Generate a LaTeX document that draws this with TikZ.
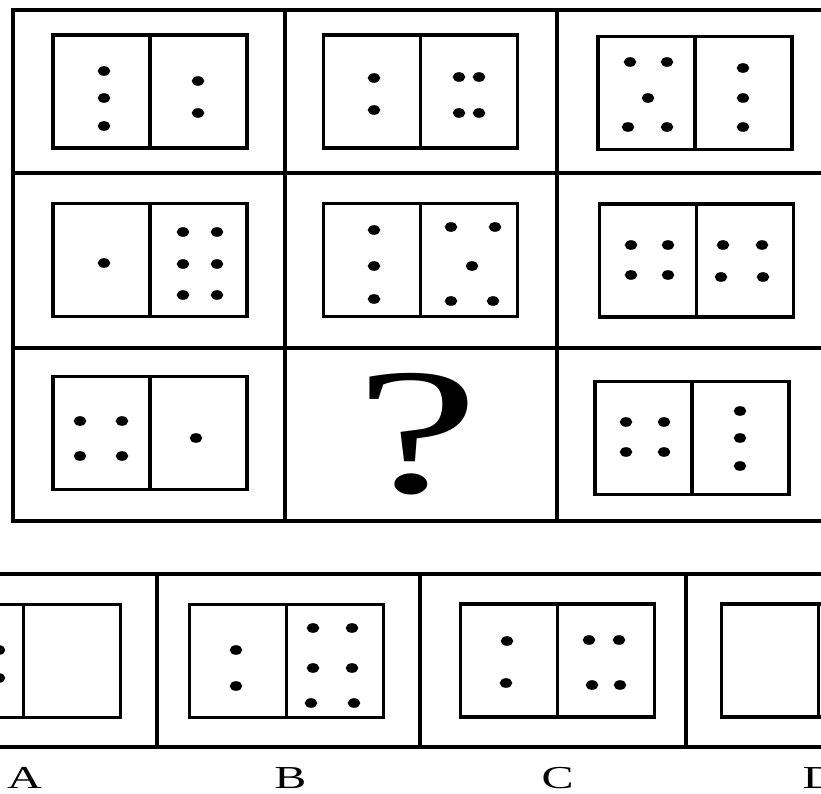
\documentclass[tikz,border=0pt]{standalone}
\usepackage{fontspec}
\usepackage{graphicx}
\newfontfamily\optfont{Liberation Serif}
\usetikzlibrary{positioning}

\begin{document}
\begin{tikzpicture}[
    x=1pt,y=-1pt,
    grid/.style={line width=3.2pt,line cap=rect},
    panel/.style={draw,line width=3.1pt,minimum width=194pt,minimum height=113pt,
      inner sep=0pt,outer sep=0pt},
    pip/.style={fill=black},
    choice/.style={font=\optfont\fontsize{32}{32}\selectfont,inner sep=0pt}
  ]
    \useasboundingbox (0,0) rectangle (821,794);
    \clip (0,0) rectangle (821,794);
    % question grid
    \foreach \y in {10,173,348,521}
      \draw[grid] (13,\y) -- (840,\y);
    \foreach \x in {13,285,557,829}
      \draw[grid] (\x,10) -- (\x,521);
    % answer strip
    \foreach \y in {574,747}
      \draw[grid] (-20,\y) -- (840,\y);
    \foreach \x in {157,420,686}
      \draw[grid] (\x,574) -- (\x,747);

    % domino panels
    \node[panel] (q11) at (150,91.5) {};
    \node[panel] (q12) at (420.5,91.5) {};
    \node[panel] (q13) at (695,93) {};
    \node[panel] (q21) at (150,260) {};
    \node[panel] (q22) at (420.5,260) {};
    \node[panel] (q23) at (696.5,260.5) {};
    \node[panel] (q31) at (150,433) {};
    \node[panel] (q33) at (692,438) {};
    \node[panel] (optA) at (23.5,661) {};
    \node[panel] (optB) at (286.5,661) {};
    \node[panel] (optC) at (557.5,660.5) {};
    \node[panel] (optD) at (818.5,660.5) {};
    \foreach \n in {q11,q12,q13,q21,q22,q23,q31,q33,optA,optB,optC,optD}
      \draw[line width=3.1pt] (\n.north) -- (\n.south);

    \node[inner sep=0pt] (ask) at (417.5,434)
      {\optfont\fontsize{180}{180}\selectfont\scalebox{1.55}[1]{?}};

    % pips
    \foreach \p in {(104,71),(104,98),(104,126),(198,81),(198,113),
                    (374,78),(374,110),(459,77),(479,77),(459,113),(479,113),
                    (630,62),(667,62),(648,98),(628,127),(667,127),
                    (743,68),(743,98),(743,127),
                    (104,263),(183,232),(217,232),(183,264),(217,264),(183,295),(217,295),
                    (374,230),(374,266),(374,299),
                    (451,227),(495,227),(472,266),(451,301),(493,301),
                    (631,245),(668,245),(631,275),(668,275),
                    (723,245),(762,245),(721,277),(763,277),
                    (80,421),(122,421),(80,456),(122,456),(196,438),
                    (626,422),(664,422),(626,452),(664,452),
                    (740,411),(740,438),(740,466),
                    (-1,650),(-1,678),
                    (236,650),(236,686),
                    (313,628),(352,628),(313,668),(352,668),(311,703),(354,703),
                    (507,641),(506,683),(589,640),(619,640),(592,685),(620,685)}
      \fill[pip] \p ellipse[x radius=6.3pt,y radius=4.8pt];

    % option letters
    \node[choice] (labA) at (24.5,778) {\scalebox{1.5}[1]{A}};
    \node[choice] (labB) at (290.5,778) {\scalebox{1.5}[1]{B}};
    \node[choice] (labC) at (557.5,778) {\scalebox{1.5}[1]{C}};
    \node[choice] (labD) at (820,778) {\scalebox{1.5}[1]{D}};
  \end{tikzpicture}
\end{document}
